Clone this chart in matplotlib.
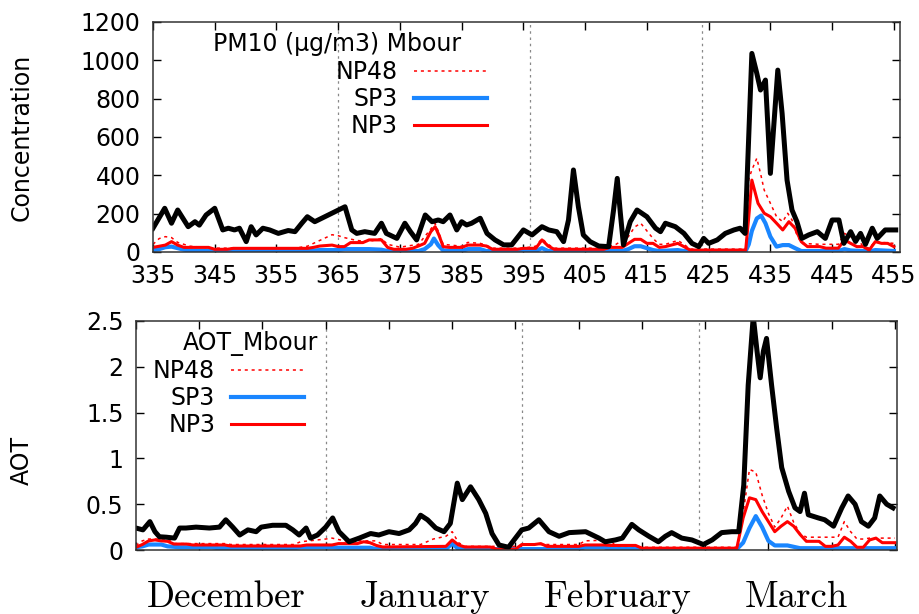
import matplotlib
matplotlib.use('Agg')
import matplotlib.pyplot as plt
from matplotlib.ticker import FormatStrFormatter

# ---- PM10 concentration (ug/m3), Mbour ----
pm_obs_day = [335, 336.9, 338, 339, 340.7, 341.8, 342.5, 343.6, 345, 346.3, 347.2, 348.2, 349, 350.1,
              350.9, 351.7, 352.8, 353.9, 355.3, 356.9, 358, 359.1, 360, 361.2, 363.4, 366.1, 367.2,
              368, 369.3, 370.9, 372, 372.8, 374.5, 375.8, 376.7, 377.7, 379.1, 380.2, 381.2, 382,
              383.1, 384.2, 385, 385.8, 386.6, 388, 389.1, 390.4, 391.8, 393.1, 395, 396.4, 398,
              399.1, 400.4, 401.5, 402.3, 403.1, 403.9, 404.7, 405.8, 407.2, 408.8, 409.6, 410.2,
              410.7, 411.2, 412.3, 413.4, 415, 416.4, 417.2, 418, 419.6, 421, 422.3, 423.4, 424.2,
              425, 426.4, 427.7, 429.1, 430.1, 430.9, 432, 432.8, 433.4, 434.2, 435, 435.5, 436.2,
              436.9, 437.7, 438.5, 439.3, 440.1, 441.2, 442.6, 443.9, 445, 446.1, 446.9, 448, 448.8,
              449.6, 450.4, 451.5, 452.3, 453.6, 455.3]
pm_obs = [124, 228, 150, 219, 132, 158, 140, 193, 228, 115, 124, 115, 124, 54,
          132, 89, 124, 115, 97, 112, 106, 150, 184, 158, 193, 236, 115,
          97, 106, 97, 150, 97, 71, 150, 106, 63, 193, 158, 167, 158,
          193, 115, 158, 141, 150, 176, 97, 63, 37, 37, 115, 89, 132,
          115, 106, 54, 167, 428, 236, 89, 54, 31, 28, 219, 384,
          202, 37, 158, 219, 184, 124, 106, 150, 132, 97, 45, 28, 71,
          45, 63, 97, 115, 124, 97, 1036, 932, 845, 897, 410, 636, 949,
          723, 375, 219, 158, 71, 89, 106, 71, 167, 167, 45, 106, 55,
          97, 40, 124, 71, 115, 115]

pm_np3_day = [335, 336, 337, 338, 339, 340, 344, 345, 347, 348, 360, 361, 362, 364, 365, 366, 367,
              369, 370, 372, 373, 374, 376, 377, 378, 379, 380, 380.7, 381.3, 382, 383, 385, 386,
              388, 389, 390, 394, 395, 397, 398, 399, 400, 408, 409, 411, 412, 413, 414, 415, 416,
              417, 418, 420, 421, 422, 431, 431.5, 432, 433, 434, 435, 436, 437, 438, 439, 440,
              441, 443, 444, 446, 447, 448, 449, 450, 451, 452, 453, 454, 455]
pm_np3 = [24, 30, 36, 54, 36, 24, 24, 14, 14, 19, 19, 24, 31, 36, 28, 28, 49,
          49, 63, 63, 24, 14, 14, 19, 31, 45, 106, 132, 89, 28, 24, 24, 36,
          36, 31, 14, 14, 19, 19, 63, 31, 14, 14, 24, 24, 45, 66, 66, 45, 45,
          24, 28, 45, 28, 10, 10, 184, 375, 254, 202, 184, 150, 115, 158, 124, 54,
          28, 28, 20, 20, 63, 45, 28, 28, 10, 54, 45, 45, 28]

pm_sp3_day = [335, 336, 337, 338, 339, 340, 341, 345, 360, 362, 365, 366, 370, 372, 373, 378, 379,
              380, 380.5, 381.2, 382, 385, 386, 388, 389, 397, 398, 399, 411, 412, 413, 414, 415,
              416, 417, 420, 421, 431, 431.5, 432, 432.8, 433.5, 434.2, 435, 436, 437, 438, 439,
              440, 446, 447, 448, 451, 452, 455]
pm_sp3 = [10, 15, 25, 28, 20, 12, 8, 5, 5, 10, 10, 15, 15, 12, 5, 5, 15,
          40, 70, 35, 8, 5, 15, 15, 5, 5, 20, 5, 5, 15, 30, 30, 20,
          10, 5, 10, 5, 5, 40, 110, 175, 190, 150, 80, 28, 36, 36, 20,
          5, 5, 15, 8, 3, 10, 5]

pm_np48_day = [335, 336, 337, 338, 339, 340, 341, 345, 358, 360, 362, 364, 365, 366, 368, 370, 372,
               373, 375, 378, 379, 380, 380.7, 381.3, 382, 385, 386, 388, 389, 390, 395, 397, 398,
               399, 400, 408, 410, 412, 413, 414, 415, 416, 417, 418, 420, 421, 422, 431, 431.5,
               432, 432.8, 433.4, 434, 435, 436, 437, 437.8, 438.5, 439.2, 440, 443, 446, 447,
               448, 449, 450, 451, 452, 453, 455]
pm_np48 = [40, 70, 80, 75, 50, 40, 30, 20, 20, 30, 60, 90, 85, 75, 60, 55, 70,
           40, 25, 40, 80, 120, 150, 100, 40, 30, 50, 45, 35, 20, 20, 30, 70,
           40, 20, 20, 40, 80, 130, 150, 110, 70, 40, 40, 60, 40, 15, 15, 380,
           428, 489, 410, 323, 254, 184, 158, 202, 167, 97, 45, 40, 40, 97,
           80, 71, 30, 20, 55, 50, 45]

# ---- AOT, Mbour ----
aot_obs_day = [335, 336.1, 337.2, 338, 338.7, 339.8, 341.1, 341.9, 342.9, 344.5, 346.6, 348.2, 349.2,
               350.3, 351.4, 352.7, 354, 354.8, 356.6, 358.7, 359.8, 360.8, 361.9, 362.6, 363.7,
               365, 366.1, 367.1, 368.7, 370.3, 372.1, 373.4, 375, 376.6, 378.2, 379.2, 380,
               381.1, 382.4, 383.7, 384.7, 385.8, 386.6, 387.9, 389.2, 390.3, 391.3, 392.4, 393.9,
               395, 396, 397.1, 398.7, 400.3, 401.9, 403.5, 406.1, 408.2, 409.2, 410.8, 411.9,
               413.4, 414.5, 416.1, 417.6, 418.7, 419.7, 421.3, 422.9, 424.7, 426.1, 427.6, 429.2,
               430.3, 431.1, 431.8, 432.6, 433.2, 433.7, 434.2, 434.7, 435.5, 436.3, 437.1, 438.2,
               439.2, 440, 440.7, 441.3, 442.9, 443.9, 445.3, 446.6, 447.6, 448.7, 449.7, 450.8,
               451.8, 452.6, 453.7, 454.7]
aot_obs = [0.24, 0.22, 0.31, 0.2, 0.145, 0.14, 0.13, 0.24, 0.24, 0.25, 0.24, 0.25, 0.33,
           0.25, 0.164, 0.22, 0.2, 0.25, 0.27, 0.27, 0.22, 0.164, 0.24, 0.13, 0.164,
           0.25, 0.35, 0.2, 0.09, 0.13, 0.18, 0.164, 0.2, 0.18, 0.22, 0.29, 0.38,
           0.33, 0.24, 0.2, 0.29, 0.73, 0.55, 0.69, 0.55, 0.4, 0.18, 0.055, 0.03,
           0.13, 0.22, 0.24, 0.33, 0.2, 0.15, 0.19, 0.2, 0.13, 0.09, 0.11, 0.13,
           0.28, 0.22, 0.15, 0.09, 0.15, 0.19, 0.13, 0.11, 0.06, 0.11, 0.19, 0.2,
           0.2, 0.71, 1.8, 2.55, 2.17, 1.88, 2.17, 2.31, 1.8, 1.33, 0.9, 0.64,
           0.46, 0.42, 0.62, 0.385, 0.35, 0.33, 0.26, 0.46, 0.59, 0.5, 0.31, 0.26,
           0.35, 0.59, 0.5, 0.46]

aot_np3_day = [335, 336, 337, 338, 339, 340, 341, 343, 344, 349, 350, 361, 362, 366, 367, 370, 371,
               372, 373, 374, 384, 385, 386, 387, 391, 392, 395, 396, 398, 399, 400, 405, 406,
               409, 410, 414, 415, 430, 431, 432, 433, 434, 435, 436, 437, 438, 439, 440, 441,
               443, 444, 445, 446, 447, 448, 449, 450, 451, 452, 453, 455]
aot_np3 = [0.03, 0.06, 0.1, 0.11, 0.1, 0.095, 0.065, 0.065, 0.055, 0.055, 0.044, 0.044, 0.055,
           0.055, 0.07, 0.07, 0.09, 0.08, 0.05, 0.033, 0.04, 0.11, 0.055, 0.033, 0.033, 0.01,
           0.01, 0.06, 0.06, 0.07, 0.04, 0.04, 0.055, 0.055, 0.05, 0.05, 0.02, 0.02, 0.35,
           0.57, 0.55, 0.42, 0.31, 0.2, 0.26, 0.31, 0.26, 0.17, 0.095, 0.095, 0.04, 0.04,
           0.055, 0.14, 0.095, 0.03, 0.03, 0.11, 0.13, 0.08, 0.08]

aot_sp3_day = [335, 336, 337, 339, 340, 342, 347, 348, 360, 361, 366, 367, 372, 373, 384, 385, 386,
               405, 406, 409, 410, 430, 431, 432, 433, 434, 435, 436, 438, 439, 440, 455]
aot_sp3 = [0.03, 0.04, 0.06, 0.06, 0.04, 0.03, 0.03, 0.02, 0.02, 0.03, 0.03, 0.025, 0.025, 0.01,
           0.01, 0.07, 0.01, 0.01, 0.03, 0.03, 0.01, 0.01, 0.08, 0.24, 0.37, 0.25, 0.1, 0.05,
           0.05, 0.035, 0.02, 0.02]

aot_np48_day = [335, 336, 337, 340, 341, 349, 350, 360, 361, 365, 366, 368, 373, 374, 380, 382, 384,
                385, 386, 387, 396, 397, 405, 406, 410, 411, 430, 431, 432, 433, 434, 435, 436,
                437, 438, 439, 440, 441, 446, 447, 448, 449, 450, 451, 455]
aot_np48 = [0.05, 0.1, 0.12, 0.12, 0.07, 0.07, 0.06, 0.06, 0.09, 0.12, 0.13, 0.1, 0.1, 0.06,
            0.06, 0.12, 0.15, 0.2, 0.08, 0.04, 0.04, 0.06, 0.06, 0.1, 0.11, 0.03, 0.03, 0.4,
            0.88, 0.85, 0.6, 0.4, 0.25, 0.35, 0.48, 0.3, 0.18, 0.14, 0.14, 0.31, 0.2, 0.12,
            0.12, 0.13, 0.13]

month_starts = [365, 396, 424]
month_names = ['December', 'January', 'February', 'March']
month_mid = [349.2, 380.7, 411.2, 439.4]

BLUE = '#1a86ff'
plt.rcParams['font.family'] = 'DejaVu Sans'
plt.rcParams['font.size'] = 17

fig = plt.figure(figsize=(9.2, 6.14), dpi=100)
ax1 = fig.add_axes([0.1663, 0.5896, 0.812, 0.3746])
ax2 = fig.add_axes([0.1478, 0.1042, 0.827, 0.373])


def draw_panel(ax, obs, np3, sp3, np48, lw_obs):
    ax.plot(np48[0], np48[1], color='red', lw=1.1, ls=(0, (2, 2.5)), label='NP48')
    ax.plot(sp3[0], sp3[1], color=BLUE, lw=3.0, label='SP3')
    ax.plot(np3[0], np3[1], color='red', lw=2.2, label='NP3')
    ax.plot(obs[0], obs[1], color='black', lw=lw_obs)
    for d in month_starts:
        ax.axvline(d, color='#888888', lw=0.9, ls=(0, (2, 3)), zorder=0)
    ax.tick_params(direction='in', top=True, right=True, length=6, width=1, pad=9)
    for s in ax.spines.values():
        s.set_linewidth(1.1)
        s.set_color('#333333')


draw_panel(ax1, (pm_obs_day, pm_obs), (pm_np3_day, pm_np3), (pm_sp3_day, pm_sp3),
           (pm_np48_day, pm_np48), 3.6)
ax1.set_xlim(335, 456)
ax1.set_ylim(0, 1200)
ax1.set_xticks(range(335, 456, 10))
ax1.set_yticks(range(0, 1201, 200))
ax1.text(0.247, 0.905, 'PM10 (µg/m3) Mbour', transform=ax1.transAxes, ha='center', va='center')
leg1 = ax1.legend(loc='upper left', bbox_to_anchor=(0.229, 0.885), frameon=False, markerfirst=False,
                  handlelength=3.1, handletextpad=0.68, labelspacing=0.12, borderpad=0)

draw_panel(ax2, (aot_obs_day, aot_obs), (aot_np3_day, aot_np3), (aot_sp3_day, aot_sp3),
           (aot_np48_day, aot_np48), 3.6)
ax2.set_xlim(335, 455.3)
ax2.set_ylim(0, 2.5)
ax2.set_xticks(range(335, 456, 10))
ax2.set_xticklabels([])
ax2.set_yticks([0, 0.5, 1, 1.5, 2, 2.5])
ax2.yaxis.set_major_formatter(FormatStrFormatter('%g'))
ax2.text(0.15, 0.9, 'AOT_Mbour', transform=ax2.transAxes, ha='center', va='center')
leg2 = ax2.legend(loc='upper left', bbox_to_anchor=(0.007, 0.885), frameon=False, markerfirst=False,
                  handlelength=3.1, handletextpad=0.68, labelspacing=0.12, borderpad=0)

for name, mid in zip(month_names, month_mid):
    ax2.text(mid, -0.205, name, transform=ax2.get_xaxis_transform(), ha='center', va='center',
             fontfamily='cmr10', fontsize=26.5)

fig.text(22 / 920, 1 - 137 / 614, 'Concentration', rotation=90, ha='center', va='center')
fig.text(22 / 920, 1 - 460 / 614, 'AOT', rotation=90, ha='center', va='center')

fig.savefig('out.png', dpi=100)
